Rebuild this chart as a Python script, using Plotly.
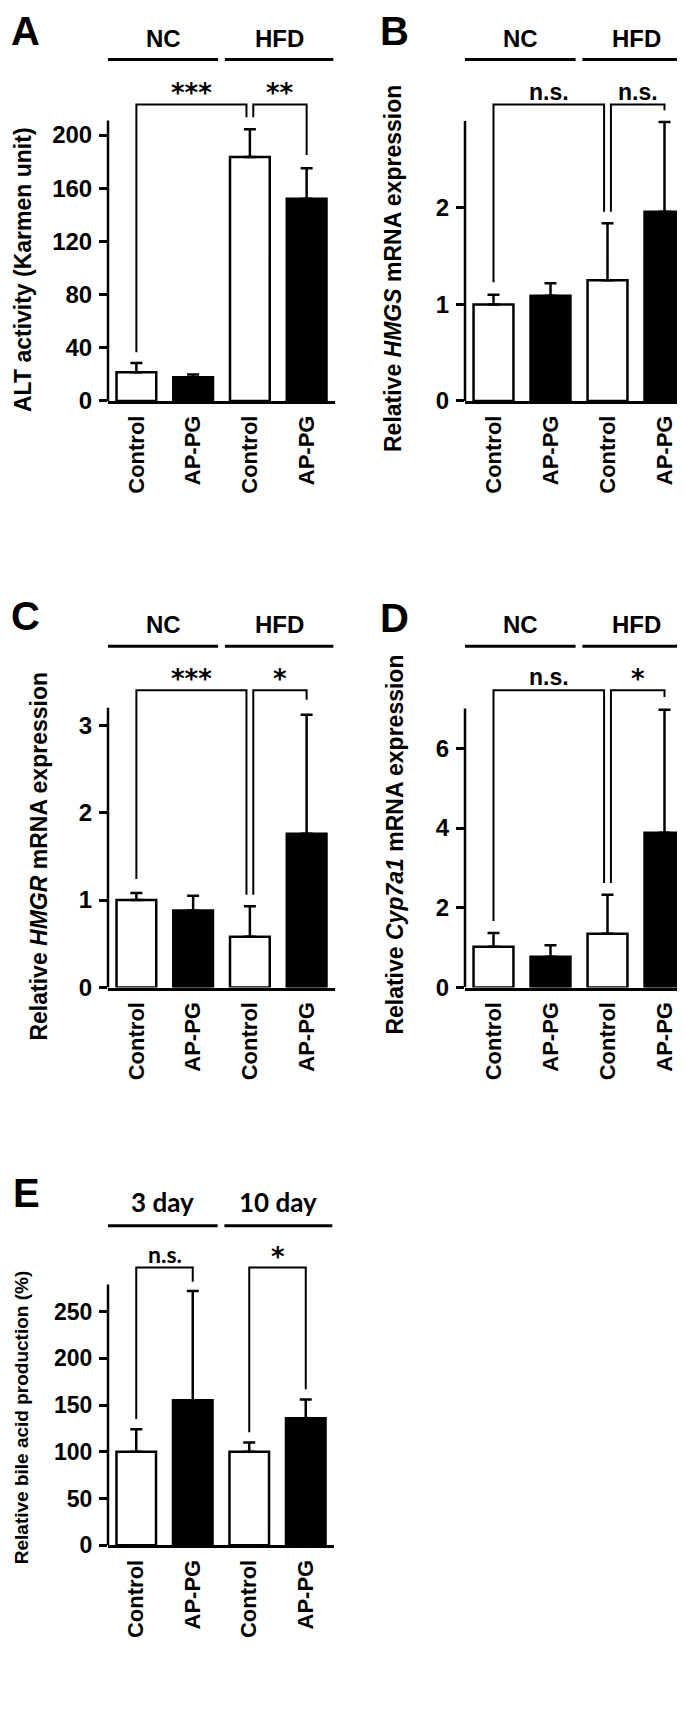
import plotly.graph_objects as go

W, H = 685, 1717

# ---------------- data ----------------
bar_labels = ["Control", "AP-PG", "Control", "AP-PG"]
bar_pos = [0, 1, 2, 3]
bar_fill = ["white", "black", "white", "black"]

alt_mean = [21.6, 17.9, 183.4, 152.0]
alt_err = [7.0, 2.1, 21.0, 23.0]

hmgs_mean = [1.00, 1.09, 1.25, 1.96]
hmgs_err = [0.10, 0.13, 0.59, 0.93]

hmgr_mean = [1.00, 0.88, 0.58, 1.76]
hmgr_err = [0.08, 0.17, 0.35, 1.36]

cyp_mean = [1.02, 0.77, 1.35, 3.88]
cyp_err = [0.35, 0.29, 0.98, 3.09]

bile_mean = [100, 155, 100, 136]
bile_err = [24, 117, 10, 20]

diet_groups = ["NC", "HFD"]
day_groups = ["3 day", "10 day"]

# brackets: (x_left, x_right, left_leg_end, right_leg_end, label)
alt_brackets = [(0, 1.94, 36.6, 213.4, "***"), (2.06, 3, 213.4, 185, "**")]
hmgs_brackets = [(0, 1.94, 1.23, 1.96, "n.s."), (2.06, 3, 1.96, 3.01, "n.s.")]
hmgr_brackets = [(0, 1.94, 1.24, 1.06, "***"), (2.06, 3, 1.06, 3.29, "*")]
cyp_brackets = [(0, 1.94, 1.67, 2.62, "n.s."), (2.06, 3, 2.62, 7.29, "*")]
bile_brackets = [(0, 1, 135, 282, "n.s."), (2, 3, 121, 167, "*")]

ARIAL = "Liberation Sans, Arial, sans-serif"
CALIBRI = "Lato, Carlito, Calibri, sans-serif"
STARFONT = "DejaVu Sans, sans-serif"

panels = [
    dict(letter="A", mean=alt_mean, err=alt_err, title="ALT activity (Karmen unit)",
         ticks=[0, 40, 80, 120, 160, 200], ytop=211, bracket_top=223, brackets=alt_brackets,
         groups=diet_groups, px_left=100, px_right=327, px_bottom=396, ppu=1.34, px_line=52,
         title_x=15, title_y=264, letter_x=2, letter_top=0, tickfont=24, titlefont=23,
         grpfont=ARIAL, grpsize=24, sigfont=ARIAL),
    dict(letter="B", mean=hmgs_mean, err=hmgs_err, title="Relative <i>HMGS</i> mRNA expression",
         ticks=[0, 1, 2], ytop=2.9, bracket_top=3.07, brackets=hmgs_brackets,
         groups=diet_groups, px_left=457, px_right=685, px_bottom=396, ppu=97.3, px_line=52,
         title_x=385, title_y=263, letter_x=371, letter_top=0, tickfont=24, titlefont=23,
         grpfont=ARIAL, grpsize=24, sigfont=ARIAL),
    dict(letter="C", mean=hmgr_mean, err=hmgr_err, title="Relative <i>HMGR</i> mRNA expression",
         ticks=[0, 1, 2, 3], ytop=3.2, bracket_top=3.40, brackets=hmgr_brackets,
         groups=diet_groups, px_left=100, px_right=327, px_bottom=987, ppu=88.1, px_line=643,
         title_x=31, title_y=855, letter_x=2, letter_top=589, tickfont=24, titlefont=23,
         grpfont=ARIAL, grpsize=24, sigfont=ARIAL),
    dict(letter="D", mean=cyp_mean, err=cyp_err, title="Relative <i>Cyp7a1</i> mRNA expression",
         ticks=[0, 2, 4, 6], ytop=7.0, bracket_top=7.46, brackets=cyp_brackets,
         groups=diet_groups, px_left=457, px_right=685, px_bottom=987, ppu=40.17, px_line=643,
         title_x=387, title_y=843, letter_x=371, letter_top=591, tickfont=24, titlefont=23,
         grpfont=ARIAL, grpsize=24, sigfont=ARIAL),
    dict(letter="E", mean=bile_mean, err=bile_err, title="Relative bile acid production (%)",
         ticks=[0, 50, 100, 150, 200, 250], ytop=279, bracket_top=297, brackets=bile_brackets,
         groups=day_groups, px_left=100, px_right=326, px_bottom=1549, ppu=0.942, px_line=1227,
         title_x=13, title_y=1420, letter_x=4, letter_top=1171, tickfont=23, titlefont=19,
         grpfont=CALIBRI, grpsize=26, sigfont=CALIBRI),
]

fig = go.Figure()
shapes = []
annotations = []
layout_axes = {}

for i, p in enumerate(panels):
    n = "" if i == 0 else str(i + 1)
    xa, ya = "x" + n, "y" + n
    line_val = (p["px_bottom"] - p["px_line"]) / p["ppu"]
    dom_top_px = p["px_line"] - 8
    yrange_top = (p["px_bottom"] - dom_top_px) / p["ppu"]

    fig.add_trace(go.Bar(
        x=bar_pos, y=p["mean"], xaxis=xa, yaxis=ya, width=0.7,
        marker=dict(color=bar_fill, line=dict(color="black", width=2.5)),
        error_y=dict(type="data", symmetric=False, array=p["err"], arrayminus=[0] * 4,
                     color="black", thickness=2.5, width=6),
        showlegend=False, hoverinfo="skip",
    ))

    layout_axes["xaxis" + n] = dict(
        domain=[p["px_left"] / W, p["px_right"] / W], anchor=ya,
        range=[-0.5, 3.5], tickmode="array", tickvals=bar_pos, ticktext=bar_labels,
        tickangle=-90, showline=True, linecolor="black", linewidth=2.5, ticks="",
        showgrid=False, zeroline=False, fixedrange=True, ticklabelstandoff=3,
        tickfont=dict(family=ARIAL, size=22, color="black", weight="bold"),
    )
    layout_axes["yaxis" + n] = dict(
        domain=[1 - p["px_bottom"] / H, 1 - dom_top_px / H], anchor=xa,
        range=[0, yrange_top], tickmode="array", tickvals=p["ticks"],
        ticktext=[str(t) for t in p["ticks"]], ticks="outside", ticklen=8, tickwidth=2.5,
        tickcolor="black", showline=False, showgrid=False, zeroline=False, fixedrange=True,
        ticklabelstandoff=2,
        tickfont=dict(family=ARIAL, size=p["tickfont"], color="black", weight="bold"),
    )

    # y spine up to the axis top
    shapes.append(dict(type="line", xref=xa + " domain", yref=ya, x0=0, x1=0,
                       y0=0, y1=p["ytop"], line=dict(color="black", width=2.5)))

    # group lines and labels
    for (g0, g1), name in zip([(-0.5, 1.44), (1.56, 3.47)], p["groups"]):
        shapes.append(dict(type="line", xref=xa, yref=ya, x0=g0, x1=g1,
                           y0=line_val, y1=line_val, line=dict(color="black", width=3)))
        annotations.append(dict(x=(g0 + g1) / 2, y=line_val, xref=xa, yref=ya,
                                text=name, showarrow=False, yanchor="bottom", yshift=6,
                                font=dict(family=p["grpfont"], size=p["grpsize"],
                                          color="black", weight="bold")))

    # significance brackets
    top = p["bracket_top"]
    for (b0, b1, l0, l1, lab) in p["brackets"]:
        shapes.append(dict(type="path", xref=xa, yref=ya,
                           path=f"M {b0},{l0} L {b0},{top} L {b1},{top} L {b1},{l1}",
                           line=dict(color="black", width=2)))
        is_star = lab.startswith("*")
        annotations.append(dict(x=(b0 + b1) / 2, y=top, xref=xa, yref=ya, text=lab,
                                showarrow=False, yanchor="bottom",
                                yshift=-6 if is_star else -2,
                                font=dict(family=STARFONT if is_star else p["sigfont"],
                                          size=26 if is_star else 23, color="black",
                                          weight="bold")))

    # y-axis title
    annotations.append(dict(x=p["title_x"] / W, y=1 - p["title_y"] / H, xref="paper",
                            yref="paper", text=p["title"], textangle=-90, showarrow=False,
                            xanchor="center", yanchor="middle",
                            font=dict(family=ARIAL, size=p["titlefont"], color="black",
                                      weight="bold")))
    # panel letter
    annotations.append(dict(x=p["letter_x"] / W, y=1 - p["letter_top"] / H, xref="paper",
                            yref="paper", text=p["letter"], showarrow=False,
                            xanchor="left", yanchor="top", borderpad=0,
                            font=dict(family=ARIAL, size=40, color="black", weight="bold")))

fig.update_layout(
    width=W, height=H, margin=dict(l=0, r=0, t=0, b=0),
    paper_bgcolor="white", plot_bgcolor="white", showlegend=False,
    shapes=shapes, annotations=annotations, bargap=0.3,
    **layout_axes,
)

fig.write_html("out.html")
